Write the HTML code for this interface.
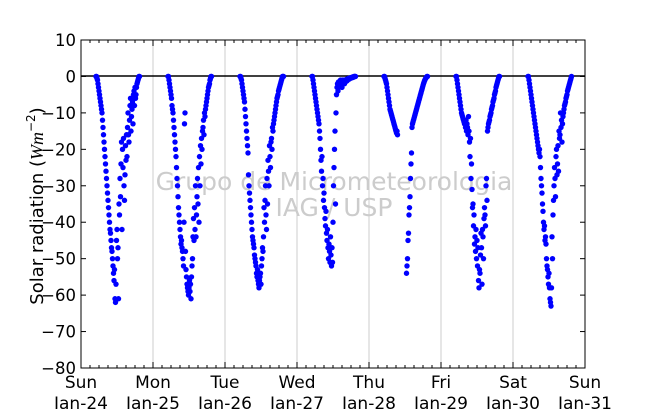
<!DOCTYPE html>
<html><head><meta charset="utf-8"><style>
html,body{margin:0;padding:0;background:#fff;}
svg{display:block;font-family:"DejaVu Sans","Liberation Sans",sans-serif;}
</style></head><body>
<svg id="chart" width="650" height="409" viewBox="0 0 650 409">
<g id="grid"></g>
<g>
<text x="334" y="190" text-anchor="middle" font-size="25" fill="#cccccc">Grupo de Micrometeorologia</text>
<text x="334" y="216" text-anchor="middle" font-size="25" fill="#cccccc">IAG / USP</text>
</g>
<line x1="81" y1="76" x2="585" y2="76" stroke="#000" stroke-width="1.5"/>
<g id="points"></g>
<rect x="81" y="40" width="504" height="328" fill="none" stroke="#000" stroke-width="1"/>
<g id="axes"></g>
<text transform="translate(43,206) rotate(-90)" text-anchor="middle" font-size="18" fill="#000">Solar radiation (<tspan font-family="Liberation Serif,serif" font-style="italic">Wm</tspan><tspan font-size="12" dy="-8">−2</tspan><tspan dy="8">)</tspan></text>
</svg>
<script>
const dayNames = ["Sun","Mon","Tue","Wed","Thu","Fri","Sat","Sun"];
const dateLabels = ["Jan-24","Jan-25","Jan-26","Jan-27","Jan-28","Jan-29","Jan-30","Jan-31"];
const yTicks = [10,0,-10,-20,-30,-40,-50,-60,-70,-80];
const startHour = 5;
const stepHours = 1/6;
const sun = [0,0,-0.5,-1,-2,-3,-4,-5,-6,-7,-8,-9,-10,-12,-14,-16,-18,-20,-22,-24,-26,-28,-30,-32,-34,-36,-38,-40,-42,-43,-45,-47,-48,-50,-52,-54,-56,-53,-61,-62,-57,-45,-42,-50,-47,-61,-35,-38,-28,-33,-24,-18,-42,-20,-25,-17,-30,-34,-27,-19,-23,-16,-22,-14,-10,-16,-18,-12,-8,-6,-15,-11,-9,-7,-13,-5,-4,-8,-3,-6,-5,-3,-2,-1.5,-1,-0.5,0,0];
const mon = [0,0,-1,-2,-3,-4,-5,-6,-8,-9,-10,-12,-14,-16,-18,-20,-22,-25,-28,-30,-33,-36,-38,-40,-42,-44,-46,-45,-47,-48,-50,-52,-40,-13,-10,-48,-53,-55,-57,-58,-59,-60,-58,-56,-59,-57,-61,-55,-52,-50,-44,-39,-45,-36,-42,-30,-44,-38,-33,-28,-35,-25,-40,-22,-30,-19,-24,-17,-20,-15,-14,-12,-16,-10,-11,-9,-8,-7,-6,-5,-4,-3,-2.5,-2,-1,-0.5,0,0];
const tue = [0,0,-0.5,-1,-2,-3,-4,-5,-6,-7,-9,-11,-13,-15,-17,-19,-21,-27,-30,-32,-34,-36,-38,-40,-42,-44,-45,-46,-47,-49,-50,-51,-52,-54,-55,-53,-56,-57,-58,-56,-55,-54,-57,-52,-50,-47,-48,-44,-36,-40,-34,-30,-38,-42,-28,-35,-23,-26,-30,-19,-22,-25,-18,-17,-20,-14,-15,-13,-12,-11,-10,-9,-8,-7,-6,-5.5,-5,-4,-3.5,-3,-2.5,-2,-1.5,-1,-0.5,0,0,0];
const wed = [0,0,-1,-2,-3,-4,-5,-6,-7,-8,-9,-10,-11,-12,-13,-15,-17,-20,-23,-26,-22,-30,-28,-34,-32,-36,-39,-41,-37,-43,-45,-42,-47,-50,-46,-48,-51,-44,-49,-52,-47,-51,-40,-30,-25,-20,-15,-35,-10,-5,-3,-2,-4,-1.5,-3,-2,-2.5,-1,-2,-1.5,-3,-1,-2,-1.5,-1,-2,-1,-1.5,-1,-0.8,-1.2,-1,-0.6,-0.8,-0.5,-0.7,-0.4,-0.5,-0.3,-0.4,-0.2,-0.3,-0.1,-0.2,0,0,0,0];
const thu = [0,0,-0.5,-1,-1.5,-2,-3,-4,-5,-6,-7,-8,-9,-9.5,-10,-10.5,-11,-11.5,-12,-12.5,-13,-13.5,-14,-14.5,-15,-15.5,-15,-16,null,null,null,null,null,null,null,null,null,null,null,null,null,null,null,null,null,-54,-52,-50,-45,-43,-38,-36,-33,-28,-24,-21,-14,-13,-12.5,-12,-11.5,-11,-10.5,-10,-9.5,-9,-8.5,-8,-7.5,-7,-6.5,-6,-5.5,-5,-4.5,-4,-3.5,-3,-2.5,-2,-1.6,-1.2,-0.9,-0.6,-0.4,-0.2,0,0];
const fri = [0,0,-1,-2,-3,-4,-5,-6,-7,-8,-9,-10,-10.5,-11,-11.5,-12,-12.5,-13,-13,-14,-12,-15,-13,-14,-16,-11,-15,-18,-22,-17,-28,-24,-31,-36,-35,-41,-38,-46,-44,-48,-42,-50,-45,-52,-47,-56,-58,-53,-54,-49,-43,-47,-57,-42,-44,-50,-39,-36,-38,-41,-30,-28,-34,-15,-14,-13,-12.5,-12,-11,-10.5,-10,-9,-8.5,-8,-7,-6.5,-6,-5,-4.5,-4,-3,-2.5,-2,-1.5,-1,-0.5,0,0];
const sat = [0,0,-1,-2,-3,-4,-5,-6,-7,-8,-9,-10,-11,-12,-13,-14,-15,-16,-17,-18,-19,-20,-21,-20,-22,-25,-28,-30,-32,-35,-37,-40,-42,-41,-45,-44,-46,-50,-52,-53,-55,-57,-54,-58,-61,-62,-63,-58,-44,-50,-38,-34,-30,-25,-28,-33,-22,-20,-27,-24,-19,-26,-15,-17,-16,-10,-14,-12,-18,-13,-11,-10,-9,-8,-7.5,-7,-6,-5.5,-5,-4,-3.5,-3,-2.5,-2,-1.5,-1,-0.5,0];
const series = [sun, mon, tue, wed, thu, fri, sat];

const NS = "http://www.w3.org/2000/svg";
const X0 = 81, X1 = 585, Y0 = 40, Y1 = 368;
const xScale = d => X0 + (d / 7) * (X1 - X0);
const yScale = v => Y0 + (10 - v) / 90 * (Y1 - Y0);
const grid = document.getElementById("grid");
const axes = document.getElementById("axes");
const pts = document.getElementById("points");
function mk(tag, attrs, parent) {
  const e = document.createElementNS(NS, tag);
  for (const k in attrs) e.setAttribute(k, attrs[k]);
  parent.appendChild(e);
  return e;
}
for (let d = 1; d < 7; d++) {
  const g = mk("line", {x1: xScale(d), x2: xScale(d), y1: Y0, y2: Y1, stroke: "#cccccc", "stroke-width": 1}, grid);
  
  
}
yTicks.forEach(t => {
  const y = yScale(t);
  const a = mk("line", {x1: X0, x2: X0 + 5, y1: y, y2: y, stroke: "#000"}, axes);
  
  
  const b = mk("line", {x1: X1 - 5, x2: X1, y1: y, y2: y, stroke: "#000"}, axes);
  
  
  const tx = mk("text", {x: X0 - 5, y: y + 6, "text-anchor": "end", "font-size": 16.5}, axes);
  tx.textContent = String(t).replace("-", "\u2212");
  
  
});
for (let k = 0; k <= 56; k++) {
  const x = xScale(k / 8);
  const major = k % 8 === 0;
  const len = major ? 6 : 3;
  const a = mk("line", {x1: x, x2: x, y1: Y1, y2: Y1 - len, stroke: "#000"}, axes);
  
  
  const b = mk("line", {x1: x, x2: x, y1: Y0, y2: Y0 + len, stroke: "#000"}, axes);
  
  
}
dayNames.forEach((n, i) => {
  const x = xScale(i);
  const t1 = mk("text", {x: x, y: 388, "text-anchor": "middle", "font-size": 17}, axes);
  t1.textContent = n;
  
  
  const t2 = mk("text", {x: x, y: 409, "text-anchor": "middle", "font-size": 17}, axes);
  t2.textContent = dateLabels[i];
  
  
});
series.forEach((arr, d) => {
  arr.forEach((v, i) => {
    if (v === null) return;
    const h = startHour + i * stepHours;
    const c = mk("circle", {cx: xScale(d + h / 24), cy: yScale(v), r: 2.7, fill: "#0000ff"}, pts);
    
    
  });
});
</script>
</body></html>
